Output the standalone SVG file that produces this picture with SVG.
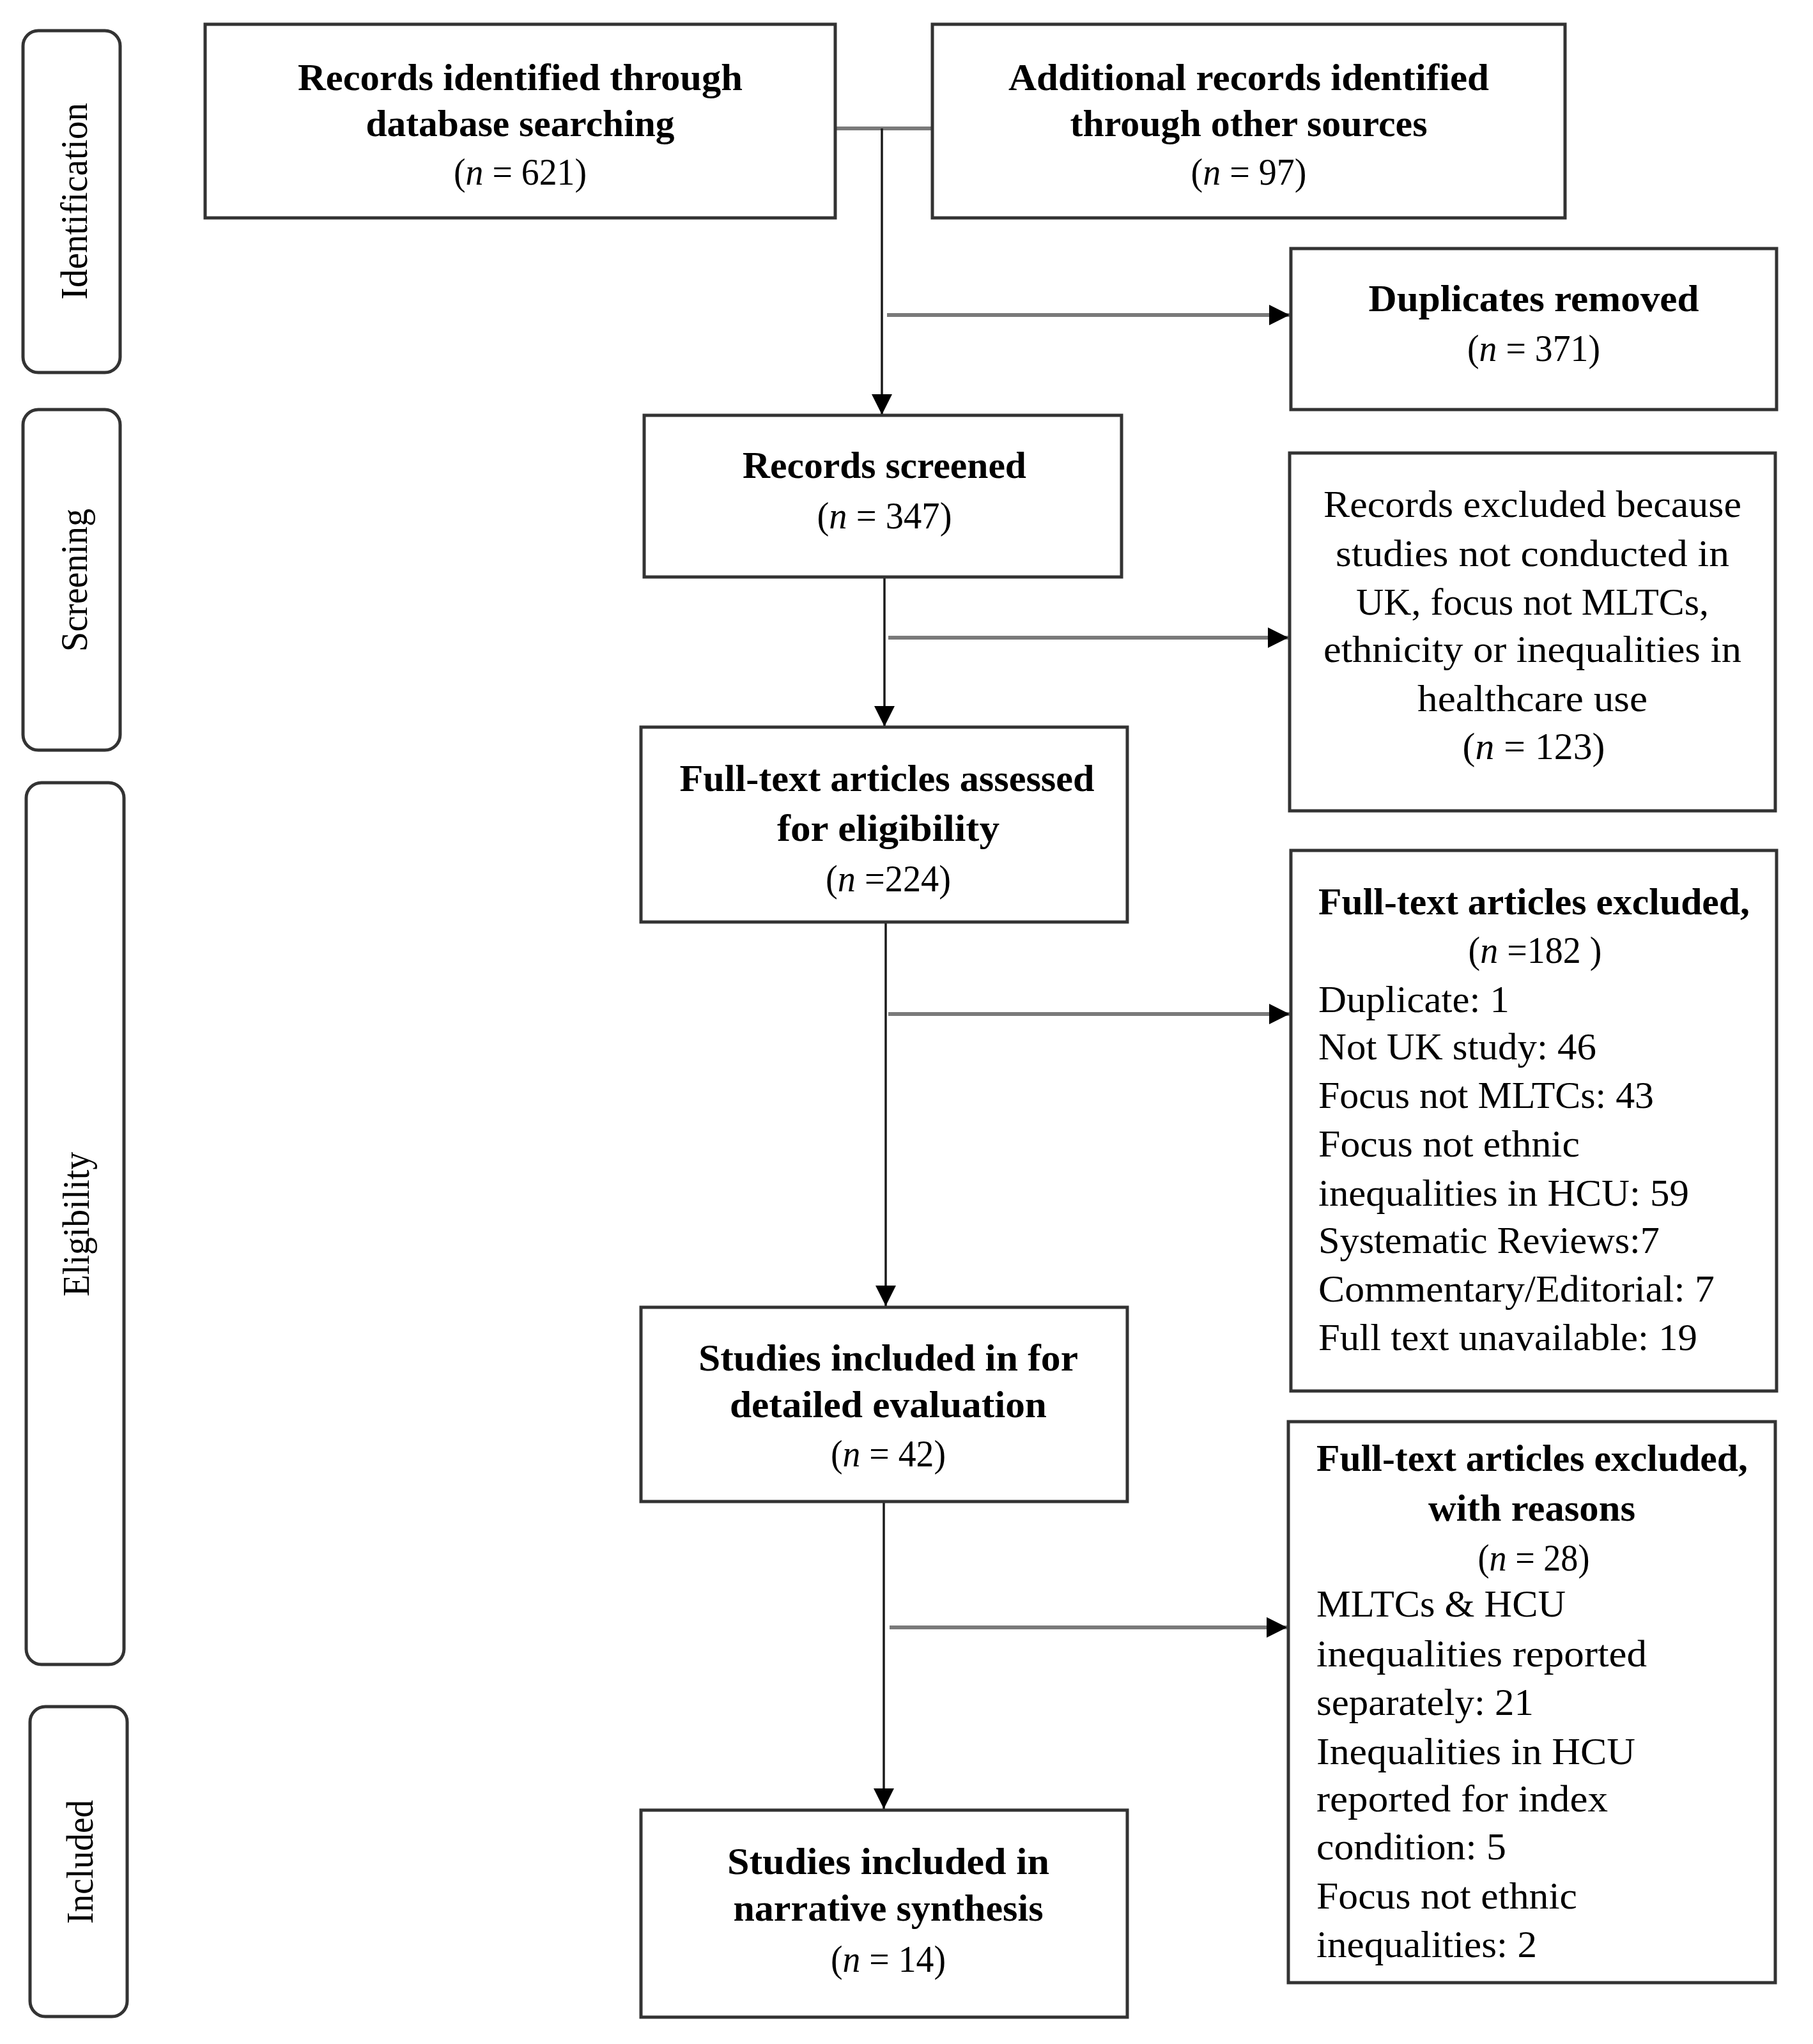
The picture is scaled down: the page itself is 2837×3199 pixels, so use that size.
<svg xmlns="http://www.w3.org/2000/svg" width="2837" height="3199" viewBox="0 0 2837 3199">
<style>
.box{fill:#fff;stroke:#333;stroke-width:5}
.lane{fill:#fff;stroke:#333;stroke-width:5}
text{font-family:"Liberation Serif","Times New Roman",serif;font-size:60px;fill:#000}
.b{font-weight:bold}
.c{text-anchor:middle}
.lbl{font-size:60px;text-anchor:middle}
.hl{stroke:#7a7a7a;stroke-width:6;fill:none}
.vl{stroke:#1a1a1a;stroke-width:3.5;fill:none}
</style>
<defs>
<marker id="arr" markerUnits="userSpaceOnUse" viewBox="0 0 32 32" markerWidth="32" markerHeight="32" refX="32" refY="16" orient="auto">
<path d="M0,0 L32,16 L0,32 z" fill="#000"/>
</marker>
</defs>

<g id="lane-identification">
<rect class="lane" x="36" y="48" width="152" height="535" rx="24"/>
<text class="lbl" transform="translate(136,315) rotate(-90)" textLength="308" lengthAdjust="spacingAndGlyphs">Identification</text>
</g>
<g id="lane-screening">
<rect class="lane" x="36" y="641" width="152" height="533" rx="24"/>
<text class="lbl" transform="translate(136,908) rotate(-90)" textLength="224" lengthAdjust="spacingAndGlyphs">Screening</text>
</g>
<g id="lane-eligibility">
<rect class="lane" x="41" y="1225" width="153" height="1380" rx="24"/>
<text class="lbl" transform="translate(139,1916) rotate(-90)" textLength="226" lengthAdjust="spacingAndGlyphs">Eligibility</text>
</g>
<g id="lane-included">
<rect class="lane" x="47" y="2671" width="152" height="485" rx="24"/>
<text class="lbl" transform="translate(145,2914) rotate(-90)" textLength="194" lengthAdjust="spacingAndGlyphs">Included</text>
</g>

<g id="connectors">
<line class="hl" x1="1307" y1="201" x2="1459" y2="201"/>
<line class="vl" x1="1380" y1="201" x2="1380" y2="649" marker-end="url(#arr)"/>
<line class="hl" x1="1388" y1="493" x2="2018" y2="493" marker-end="url(#arr)"/>
<line class="vl" x1="1384" y1="903" x2="1384" y2="1137" marker-end="url(#arr)"/>
<line class="hl" x1="1390" y1="998" x2="2016" y2="998" marker-end="url(#arr)"/>
<line class="vl" x1="1386" y1="1443" x2="1386" y2="2044" marker-end="url(#arr)"/>
<line class="hl" x1="1390" y1="1587" x2="2018" y2="1587" marker-end="url(#arr)"/>
<line class="vl" x1="1383" y1="2350" x2="1383" y2="2831" marker-end="url(#arr)"/>
<line class="hl" x1="1392" y1="2547" x2="2014" y2="2547" marker-end="url(#arr)"/>
</g>

<g id="records-database">
<rect class="box" x="321" y="38" width="986" height="303"/>
<text class="b c" x="814" y="141" textLength="696" lengthAdjust="spacingAndGlyphs">Records identified through</text>
<text class="b c" x="814" y="213" textLength="483" lengthAdjust="spacingAndGlyphs">database searching</text>
<text class="c" x="814" y="289" textLength="208" lengthAdjust="spacingAndGlyphs">(<tspan font-style="italic">n</tspan> = 621)</text>
</g>

<g id="records-other">
<rect class="box" x="1459" y="38" width="990" height="303"/>
<text class="b c" x="1954" y="141" textLength="752" lengthAdjust="spacingAndGlyphs">Additional records identified</text>
<text class="b c" x="1954" y="213" textLength="559" lengthAdjust="spacingAndGlyphs">through other sources</text>
<text class="c" x="1954" y="289" textLength="181" lengthAdjust="spacingAndGlyphs">(<tspan font-style="italic">n</tspan> = 97)</text>
</g>

<g id="duplicates">
<rect class="box" x="2020" y="389" width="760" height="252"/>
<text class="b c" x="2400" y="487" textLength="517" lengthAdjust="spacingAndGlyphs">Duplicates removed</text>
<text class="c" x="2400" y="565" textLength="208" lengthAdjust="spacingAndGlyphs">(<tspan font-style="italic">n</tspan> = 371)</text>
</g>

<g id="records-screened">
<rect class="box" x="1008" y="650" width="747" height="253"/>
<text class="b c" x="1384" y="748" textLength="444" lengthAdjust="spacingAndGlyphs">Records screened</text>
<text class="c" x="1384" y="827" textLength="211" lengthAdjust="spacingAndGlyphs">(<tspan font-style="italic">n</tspan> = 347)</text>
</g>

<g id="records-excluded">
<rect class="box" x="2018" y="709" width="760" height="560"/>
<text class="c" x="2398" y="809" textLength="654" lengthAdjust="spacingAndGlyphs">Records excluded because</text>
<text class="c" x="2398" y="886" textLength="616" lengthAdjust="spacingAndGlyphs">studies not conducted in</text>
<text class="c" x="2398" y="962" textLength="552" lengthAdjust="spacingAndGlyphs">UK, focus not MLTCs,</text>
<text class="c" x="2398" y="1036" textLength="654" lengthAdjust="spacingAndGlyphs">ethnicity or inequalities in</text>
<text class="c" x="2398" y="1113" textLength="360" lengthAdjust="spacingAndGlyphs">healthcare use</text>
<text class="c" x="2400" y="1188" textLength="223" lengthAdjust="spacingAndGlyphs">(<tspan font-style="italic">n</tspan> =  123)</text>
</g>

<g id="fulltext-assessed">
<rect class="box" x="1003" y="1138" width="761" height="305"/>
<text class="b c" x="1388" y="1238" textLength="649" lengthAdjust="spacingAndGlyphs">Full-text articles assessed</text>
<text class="b c" x="1390" y="1316" textLength="348" lengthAdjust="spacingAndGlyphs">for eligibility</text>
<text class="c" x="1390" y="1395" textLength="196" lengthAdjust="spacingAndGlyphs">(<tspan font-style="italic">n</tspan> =224)</text>
</g>

<g id="fulltext-excluded">
<rect class="box" x="2020" y="1331" width="760" height="846"/>
<text class="b" x="2063" y="1431" textLength="675" lengthAdjust="spacingAndGlyphs">Full-text articles excluded,</text>
<text class="c" x="2402" y="1507" textLength="209" lengthAdjust="spacingAndGlyphs">(<tspan font-style="italic">n</tspan> =182 )</text>
<text x="2063" y="1584" textLength="299" lengthAdjust="spacingAndGlyphs">Duplicate: 1</text>
<text x="2063" y="1658" textLength="435" lengthAdjust="spacingAndGlyphs">Not UK study: 46</text>
<text x="2063" y="1734" textLength="525" lengthAdjust="spacingAndGlyphs">Focus not MLTCs: 43</text>
<text x="2063" y="1810" textLength="409" lengthAdjust="spacingAndGlyphs">Focus not ethnic</text>
<text x="2063" y="1887" textLength="580" lengthAdjust="spacingAndGlyphs">inequalities in HCU: 59</text>
<text x="2063" y="1961" textLength="534" lengthAdjust="spacingAndGlyphs">Systematic Reviews:7</text>
<text x="2063" y="2037" textLength="620" lengthAdjust="spacingAndGlyphs">Commentary/Editorial: 7</text>
<text x="2063" y="2113" textLength="593" lengthAdjust="spacingAndGlyphs">Full text unavailable: 19</text>
</g>

<g id="studies-detailed">
<rect class="box" x="1003" y="2046" width="761" height="304"/>
<text class="b c" x="1390" y="2145" textLength="594" lengthAdjust="spacingAndGlyphs">Studies included in for</text>
<text class="b c" x="1390" y="2218" textLength="496" lengthAdjust="spacingAndGlyphs">detailed evaluation</text>
<text class="c" x="1390" y="2295" textLength="180" lengthAdjust="spacingAndGlyphs">(<tspan font-style="italic">n</tspan> = 42)</text>
</g>

<g id="fulltext-excluded-reasons">
<rect class="box" x="2016" y="2225" width="762" height="878"/>
<text class="b" x="2060" y="2302" textLength="675" lengthAdjust="spacingAndGlyphs">Full-text articles excluded,</text>
<text class="b c" x="2397" y="2380" textLength="324" lengthAdjust="spacingAndGlyphs">with reasons</text>
<text class="c" x="2400" y="2458" textLength="175" lengthAdjust="spacingAndGlyphs">(<tspan font-style="italic">n</tspan> = 28)</text>
<text x="2060" y="2530" textLength="390" lengthAdjust="spacingAndGlyphs">MLTCs &amp; HCU</text>
<text x="2060" y="2608" textLength="517" lengthAdjust="spacingAndGlyphs">inequalities reported</text>
<text x="2060" y="2684" textLength="340" lengthAdjust="spacingAndGlyphs">separately: 21</text>
<text x="2060" y="2761" textLength="499" lengthAdjust="spacingAndGlyphs">Inequalities in HCU</text>
<text x="2060" y="2835" textLength="456" lengthAdjust="spacingAndGlyphs">reported for index</text>
<text x="2060" y="2910" textLength="297" lengthAdjust="spacingAndGlyphs">condition: 5</text>
<text x="2060" y="2987" textLength="408" lengthAdjust="spacingAndGlyphs">Focus not ethnic</text>
<text x="2060" y="3063" textLength="345" lengthAdjust="spacingAndGlyphs">inequalities: 2</text>
</g>

<g id="studies-narrative">
<rect class="box" x="1003" y="2833" width="761" height="324"/>
<text class="b c" x="1390" y="2933" textLength="504" lengthAdjust="spacingAndGlyphs">Studies included in</text>
<text class="b c" x="1390" y="3006" textLength="485" lengthAdjust="spacingAndGlyphs">narrative synthesis</text>
<text class="c" x="1390" y="3086" textLength="180" lengthAdjust="spacingAndGlyphs">(<tspan font-style="italic">n</tspan> = 14)</text>
</g>
</svg>
